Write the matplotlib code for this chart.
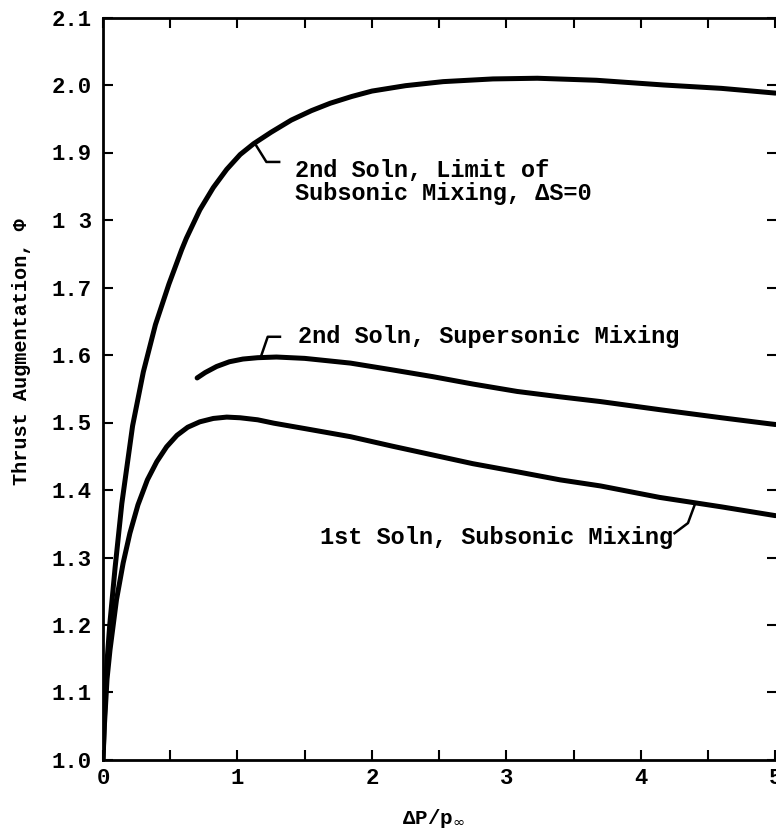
"""Thrust augmentation against pressure ratio for the three mixing solutions."""

import matplotlib

matplotlib.use("Agg")
import matplotlib.pyplot as plt
from matplotlib.ticker import MultipleLocator

# 2nd solution, limit of subsonic mixing (dS = 0)
limit_x = [0.0, 0.01, 0.027, 0.05, 0.09, 0.14, 0.22, 0.30, 0.39, 0.49, 0.585, 0.62,
           0.72, 0.82, 0.92, 1.02, 1.12, 1.25, 1.40, 1.55, 1.69, 1.85, 2.00, 2.25,
           2.53, 2.90, 3.23, 3.67, 4.17, 4.60, 5.00]
limit_y = [1.000, 1.060, 1.138, 1.200, 1.285, 1.380, 1.495, 1.575, 1.645, 1.705, 1.756,
           1.773, 1.815, 1.848, 1.875, 1.897, 1.913, 1.930, 1.948, 1.962, 1.973, 1.983,
           1.991, 1.999, 2.005, 2.009, 2.010, 2.007, 2.000, 1.995, 1.988]

# 2nd solution, supersonic mixing
super_x = [0.70, 0.76, 0.845, 0.94, 1.04, 1.15, 1.29, 1.50, 1.84, 2.15, 2.45, 2.75,
           3.08, 3.40, 3.70, 4.14, 4.60, 5.00]
super_y = [1.566, 1.574, 1.583, 1.590, 1.594, 1.596, 1.597, 1.595, 1.588, 1.578, 1.568,
           1.557, 1.546, 1.538, 1.531, 1.519, 1.507, 1.497]

# 1st solution, subsonic mixing
sub_x = [0.0, 0.01, 0.03, 0.052, 0.10, 0.15, 0.20, 0.26, 0.33, 0.40, 0.473, 0.55,
         0.63, 0.72, 0.82, 0.92, 1.02, 1.15, 1.27, 1.50, 1.84, 2.15, 2.45, 2.75,
         3.08, 3.40, 3.70, 4.14, 4.60, 5.00]
sub_y = [1.000, 1.050, 1.120, 1.163, 1.237, 1.292, 1.336, 1.378, 1.415, 1.442, 1.464,
         1.481, 1.493, 1.501, 1.506, 1.508, 1.507, 1.504, 1.499, 1.491, 1.479, 1.465,
         1.452, 1.439, 1.427, 1.415, 1.406, 1.389, 1.375, 1.362]

xtick_values = [0, 1, 2, 3, 4, 5]
xtick_labels = ["0", "1", "2", "3", "4", "5"]
ytick_values = [1.0, 1.1, 1.2, 1.3, 1.4, 1.5, 1.6, 1.7, 1.8, 1.9, 2.0, 2.1]
ytick_labels = ["1.0", "1.1", "1.2", "1.3", "1.4", "1.5", "1.6", "1.7", "1 3", "1.9",
                "2.0", "2.1"]

FONT = "Liberation Mono"
INK = "black"

fig = plt.figure(figsize=(7.76, 8.33), dpi=100)
ax = fig.add_axes([103 / 776, 73 / 833, 674 / 776, 742.5 / 833])

for xs, ys in ((limit_x, limit_y), (super_x, super_y), (sub_x, sub_y)):
    ax.plot(xs, ys, color=INK, lw=3.6, solid_capstyle="round", solid_joinstyle="round")

ax.set_xlim(0, 5.012)
ax.set_ylim(1.0, 2.1)

ax.set_xticks(xtick_values)
ax.set_xticklabels(xtick_labels)
ax.xaxis.set_minor_locator(MultipleLocator(0.5))
ax.set_yticks(ytick_values)
ax.set_yticklabels(ytick_labels)

for side in ax.spines.values():
    side.set_linewidth(2.0)
ax.tick_params(which="both", direction="in", top=True, right=True, length=7, width=1.5)
ax.tick_params(axis="x", pad=6)
ax.tick_params(axis="y", pad=8)
for lab in ax.get_xticklabels() + ax.get_yticklabels():
    lab.set_fontfamily(FONT)
    lab.set_fontweight("bold")
    lab.set_fontsize(16)

label_kw = dict(fontfamily=FONT, fontweight="bold", fontsize=17, color=INK)

# curve labels with their leader hooks
ax.plot([1.14, 1.215, 1.31], [1.910, 1.886, 1.886], color=INK, lw=1.8)
ax.text(1.427, 1.874, "2nd Soln, Limit of", va="center", **label_kw)
ax.text(1.427, 1.839, "Subsonic Mixing, \u0394S=0", va="center", **label_kw)

ax.plot([1.175, 1.225, 1.316], [1.598, 1.627, 1.627], color=INK, lw=1.8)
ax.text(1.45, 1.627, "2nd Soln, Supersonic Mixing", va="center", **label_kw)

ax.plot([4.40, 4.35, 4.25], [1.378, 1.351, 1.336], color=INK, lw=1.8)
ax.text(4.24, 1.330, "1st Soln, Subsonic Mixing", va="center", ha="right", **label_kw)

fig.text(22 / 776, 1 - 352 / 833, "Thrust Augmentation, \u03a6", rotation=90,
         ha="center", va="center", fontfamily=FONT, fontweight="bold", fontsize=14.5)
fig.text(433 / 776, 1 - 818 / 833, "\u0394P/p$_{\\infty}$", ha="center", va="center",
         fontfamily=FONT, fontweight="bold", fontsize=15)

fig.savefig("out.png", dpi=100, facecolor="white")
